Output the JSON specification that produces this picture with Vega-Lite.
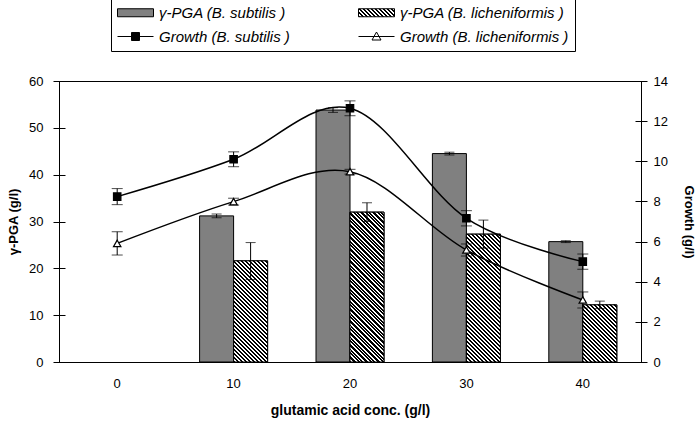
{
  "$schema": "https://vega.github.io/schema/vega-lite/v6.json",
  "autosize": {"type": "none"},
  "width": 582,
  "height": 281,
  "padding": {"left": 59, "top": 81, "right": 59, "bottom": 61},
  "config": {
    "font": "Liberation Sans",
    "view": {"stroke": "black", "strokeWidth": 1},
    "axis": {"labelFont": "Liberation Sans", "labelFontSize": 13, "labelColor": "black", "titleFont": "Liberation Sans", "titleFontSize": 13, "titleFontWeight": "bold", "titleColor": "black", "tickColor": "black", "grid": false}
  },
  "params": [
    {"name": "hatch", "value": [
      {"offset":0,"color":"#000"},
      {"offset":0.0104,"color":"#000"},{"offset":0.0104,"color":"#fff"},
      {"offset":0.0208,"color":"#fff"},{"offset":0.0208,"color":"#000"},
      {"offset":0.0313,"color":"#000"},{"offset":0.0313,"color":"#fff"},
      {"offset":0.0417,"color":"#fff"},{"offset":0.0417,"color":"#000"},
      {"offset":0.0521,"color":"#000"},{"offset":0.0521,"color":"#fff"},
      {"offset":0.0625,"color":"#fff"},{"offset":0.0625,"color":"#000"},
      {"offset":0.0729,"color":"#000"},{"offset":0.0729,"color":"#fff"},
      {"offset":0.0833,"color":"#fff"},{"offset":0.0833,"color":"#000"},
      {"offset":0.0938,"color":"#000"},{"offset":0.0938,"color":"#fff"},
      {"offset":0.1042,"color":"#fff"},{"offset":0.1042,"color":"#000"},
      {"offset":0.1146,"color":"#000"},{"offset":0.1146,"color":"#fff"},
      {"offset":0.125,"color":"#fff"},{"offset":0.125,"color":"#000"},
      {"offset":0.1354,"color":"#000"},{"offset":0.1354,"color":"#fff"},
      {"offset":0.1458,"color":"#fff"},{"offset":0.1458,"color":"#000"},
      {"offset":0.1563,"color":"#000"},{"offset":0.1563,"color":"#fff"},
      {"offset":0.1667,"color":"#fff"},{"offset":0.1667,"color":"#000"},
      {"offset":0.1771,"color":"#000"},{"offset":0.1771,"color":"#fff"},
      {"offset":0.1875,"color":"#fff"},{"offset":0.1875,"color":"#000"},
      {"offset":0.1979,"color":"#000"},{"offset":0.1979,"color":"#fff"},
      {"offset":0.2083,"color":"#fff"},{"offset":0.2083,"color":"#000"},
      {"offset":0.2188,"color":"#000"},{"offset":0.2188,"color":"#fff"},
      {"offset":0.2292,"color":"#fff"},{"offset":0.2292,"color":"#000"},
      {"offset":0.2396,"color":"#000"},{"offset":0.2396,"color":"#fff"},
      {"offset":0.25,"color":"#fff"},{"offset":0.25,"color":"#000"},
      {"offset":0.2604,"color":"#000"},{"offset":0.2604,"color":"#fff"},
      {"offset":0.2708,"color":"#fff"},{"offset":0.2708,"color":"#000"},
      {"offset":0.2813,"color":"#000"},{"offset":0.2813,"color":"#fff"},
      {"offset":0.2917,"color":"#fff"},{"offset":0.2917,"color":"#000"},
      {"offset":0.3021,"color":"#000"},{"offset":0.3021,"color":"#fff"},
      {"offset":0.3125,"color":"#fff"},{"offset":0.3125,"color":"#000"},
      {"offset":0.3229,"color":"#000"},{"offset":0.3229,"color":"#fff"},
      {"offset":0.3333,"color":"#fff"},{"offset":0.3333,"color":"#000"},
      {"offset":0.3438,"color":"#000"},{"offset":0.3438,"color":"#fff"},
      {"offset":0.3542,"color":"#fff"},{"offset":0.3542,"color":"#000"},
      {"offset":0.3646,"color":"#000"},{"offset":0.3646,"color":"#fff"},
      {"offset":0.375,"color":"#fff"},{"offset":0.375,"color":"#000"},
      {"offset":0.3854,"color":"#000"},{"offset":0.3854,"color":"#fff"},
      {"offset":0.3958,"color":"#fff"},{"offset":0.3958,"color":"#000"},
      {"offset":0.4063,"color":"#000"},{"offset":0.4063,"color":"#fff"},
      {"offset":0.4167,"color":"#fff"},{"offset":0.4167,"color":"#000"},
      {"offset":0.4271,"color":"#000"},{"offset":0.4271,"color":"#fff"},
      {"offset":0.4375,"color":"#fff"},{"offset":0.4375,"color":"#000"},
      {"offset":0.4479,"color":"#000"},{"offset":0.4479,"color":"#fff"},
      {"offset":0.4583,"color":"#fff"},{"offset":0.4583,"color":"#000"},
      {"offset":0.4688,"color":"#000"},{"offset":0.4688,"color":"#fff"},
      {"offset":0.4792,"color":"#fff"},{"offset":0.4792,"color":"#000"},
      {"offset":0.4896,"color":"#000"},{"offset":0.4896,"color":"#fff"},
      {"offset":0.5,"color":"#fff"},{"offset":0.5,"color":"#000"},
      {"offset":0.5104,"color":"#000"},{"offset":0.5104,"color":"#fff"},
      {"offset":0.5208,"color":"#fff"},{"offset":0.5208,"color":"#000"},
      {"offset":0.5313,"color":"#000"},{"offset":0.5313,"color":"#fff"},
      {"offset":0.5417,"color":"#fff"},{"offset":0.5417,"color":"#000"},
      {"offset":0.5521,"color":"#000"},{"offset":0.5521,"color":"#fff"},
      {"offset":0.5625,"color":"#fff"},{"offset":0.5625,"color":"#000"},
      {"offset":0.5729,"color":"#000"},{"offset":0.5729,"color":"#fff"},
      {"offset":0.5833,"color":"#fff"},{"offset":0.5833,"color":"#000"},
      {"offset":0.5938,"color":"#000"},{"offset":0.5938,"color":"#fff"},
      {"offset":0.6042,"color":"#fff"},{"offset":0.6042,"color":"#000"},
      {"offset":0.6146,"color":"#000"},{"offset":0.6146,"color":"#fff"},
      {"offset":0.625,"color":"#fff"},{"offset":0.625,"color":"#000"},
      {"offset":0.6354,"color":"#000"},{"offset":0.6354,"color":"#fff"},
      {"offset":0.6458,"color":"#fff"},{"offset":0.6458,"color":"#000"},
      {"offset":0.6563,"color":"#000"},{"offset":0.6563,"color":"#fff"},
      {"offset":0.6667,"color":"#fff"},{"offset":0.6667,"color":"#000"},
      {"offset":0.6771,"color":"#000"},{"offset":0.6771,"color":"#fff"},
      {"offset":0.6875,"color":"#fff"},{"offset":0.6875,"color":"#000"},
      {"offset":0.6979,"color":"#000"},{"offset":0.6979,"color":"#fff"},
      {"offset":0.7083,"color":"#fff"},{"offset":0.7083,"color":"#000"},
      {"offset":0.7188,"color":"#000"},{"offset":0.7188,"color":"#fff"},
      {"offset":0.7292,"color":"#fff"},{"offset":0.7292,"color":"#000"},
      {"offset":0.7396,"color":"#000"},{"offset":0.7396,"color":"#fff"},
      {"offset":0.75,"color":"#fff"},{"offset":0.75,"color":"#000"},
      {"offset":0.7604,"color":"#000"},{"offset":0.7604,"color":"#fff"},
      {"offset":0.7708,"color":"#fff"},{"offset":0.7708,"color":"#000"},
      {"offset":0.7813,"color":"#000"},{"offset":0.7813,"color":"#fff"},
      {"offset":0.7917,"color":"#fff"},{"offset":0.7917,"color":"#000"},
      {"offset":0.8021,"color":"#000"},{"offset":0.8021,"color":"#fff"},
      {"offset":0.8125,"color":"#fff"},{"offset":0.8125,"color":"#000"},
      {"offset":0.8229,"color":"#000"},{"offset":0.8229,"color":"#fff"},
      {"offset":0.8333,"color":"#fff"},{"offset":0.8333,"color":"#000"},
      {"offset":0.8438,"color":"#000"},{"offset":0.8438,"color":"#fff"},
      {"offset":0.8542,"color":"#fff"},{"offset":0.8542,"color":"#000"},
      {"offset":0.8646,"color":"#000"},{"offset":0.8646,"color":"#fff"},
      {"offset":0.875,"color":"#fff"},{"offset":0.875,"color":"#000"},
      {"offset":0.8854,"color":"#000"},{"offset":0.8854,"color":"#fff"},
      {"offset":0.8958,"color":"#fff"},{"offset":0.8958,"color":"#000"},
      {"offset":0.9063,"color":"#000"},{"offset":0.9063,"color":"#fff"},
      {"offset":0.9167,"color":"#fff"},{"offset":0.9167,"color":"#000"},
      {"offset":0.9271,"color":"#000"},{"offset":0.9271,"color":"#fff"},
      {"offset":0.9375,"color":"#fff"},{"offset":0.9375,"color":"#000"},
      {"offset":0.9479,"color":"#000"},{"offset":0.9479,"color":"#fff"},
      {"offset":0.9583,"color":"#fff"},{"offset":0.9583,"color":"#000"},
      {"offset":0.9688,"color":"#000"},{"offset":0.9688,"color":"#fff"},
      {"offset":0.9792,"color":"#fff"},{"offset":0.9792,"color":"#000"},
      {"offset":0.9896,"color":"#000"},{"offset":0.9896,"color":"#fff"},
      {"offset":1,"color":"#fff"}
    ]}
  ],
  "data": {"values": [
    {"conc":"0","strain":"sub","pga":null,"pgaLo":null,"pgaHi":null,"growth":8.24,"gLo":7.84,"gHi":8.64},
    {"conc":"0","strain":"lich","pga":null,"pgaLo":null,"pgaHi":null,"growth":5.91,"gLo":5.33,"gHi":6.49},
    {"conc":"10","strain":"sub","pga":31.2,"pgaLo":30.8,"pgaHi":31.6,"growth":10.1,"gLo":9.73,"gHi":10.47},
    {"conc":"10","strain":"lich","pga":21.6,"pgaLo":17.6,"pgaHi":25.5,"growth":7.99,"gLo":7.82,"gHi":8.16},
    {"conc":"20","strain":"sub","pga":53.8,"pgaLo":53.3,"pgaHi":54.3,"growth":12.64,"gLo":12.27,"gHi":13.01},
    {"conc":"20","strain":"lich","pga":32.0,"pgaLo":30.0,"pgaHi":34.0,"growth":9.48,"gLo":9.36,"gHi":9.6},
    {"conc":"30","strain":"sub","pga":44.5,"pgaLo":44.2,"pgaHi":44.8,"growth":7.16,"gLo":6.78,"gHi":7.54},
    {"conc":"30","strain":"lich","pga":27.3,"pgaLo":24.3,"pgaHi":30.3,"growth":5.58,"gLo":5.28,"gHi":5.88},
    {"conc":"40","strain":"sub","pga":25.7,"pgaLo":25.5,"pgaHi":25.9,"growth":5.0,"gLo":4.62,"gHi":5.38},
    {"conc":"40","strain":"lich","pga":12.2,"pgaLo":11.4,"pgaHi":13.0,"growth":3.09,"gLo":2.69,"gHi":3.49}
  ]},
  "encoding": {
    "x": {"field": "conc", "type": "ordinal", "sort": ["0","10","20","30","40"],
      "scale": {"paddingInner": 0, "paddingOuter": 0},
      "axis": {"title": "glutamic acid conc. (g/l)", "labelAngle": 0, "domain": false, "ticks": false, "labelPadding": 15, "titlePadding": 13, "titleFontSize": 14}}
  },
  "layer": [
    {
      "transform": [{"filter": "datum.pga != null"}],
      "encoding": {
        "xOffset": {"field": "strain", "type": "nominal", "scale": {"domain": ["sub","lich"], "paddingInner": 0, "paddingOuter": 0.7118}},
        "y": {"type": "quantitative", "scale": {"domain": [0, 60]}, "title": "γ-PGA (g/l)"}
      },
      "layer": [
        {
          "mark": {"type": "bar", "stroke": "black", "strokeWidth": 1},
          "encoding": {
            "y": {"field": "pga", "type": "quantitative", "title": "γ-PGA (g/l)",
              "axis": {"orient": "left", "values": [0,10,20,30,40,50,60], "domain": false, "offset": -6, "tickSize": 12, "labelPadding": 10, "titlePadding": 8}},
            "fill": {"field": "strain", "type": "nominal",
              "scale": {"domain": ["sub","lich","gsub","glich"], "range": ["#808080", {"expr": "{gradient: 'linear', x1: 0, y1: 1, x2: 5.08, y2: -0.13, stops: hatch}"}, "#000000", "#ffffff"]},
              "legend": {
                "orient": "none", "legendX": 52, "legendY": -85, "direction": "horizontal", "columns": 2, "title": null,
                "labelExpr": "datum.value === 'sub' ? 'γ-PGA (B. subtilis )' : datum.value === 'lich' ? 'γ-PGA (B. licheniformis )\u00a0\u00a0\u00a0\u00a0\u00a0\u00a0' : datum.value === 'gsub' ? 'Growth (B. subtilis )' : 'Growth (B. licheniformis )\u00a0\u00a0\u00a0\u00a0\u00a0\u00a0'",
                "labelFont": "Liberation Sans", "labelFontSize": 15, "labelFontStyle": "italic", "labelColor": "black", "labelLimit": 400,
                "symbolType": {"expr": "datum.value === 'sub' || datum.value === 'lich' ? 'M-1.8,-0.4H1.8V0.4H-1.8Z' : datum.value === 'gsub' ? 'M-1.8,0H1.8M-0.4,-0.4H0.4V0.4H-0.4Z' : 'M-1.8,0H1.8M0,-0.45L0.45,0.35H-0.45Z'"},
                "symbolSize": 400, "symbolOffset": 8, "symbolStrokeColor": "black", "symbolStrokeWidth": 1, "symbolOpacity": 1,
                "labelOffset": 13, "rowPadding": 5, "columnPadding": 66, "padding": 6,
                "strokeColor": "black", "fillColor": "white"
              }}
          }
        },
        {
          "transform": [{"filter": "datum.strain === 'lich'"}],
          "mark": {"type": "bar", "stroke": "black", "strokeWidth": 1,
            "fill": {"expr": "{gradient: 'linear', x1: 0, y1: 1, x2: 192*34/(1156+pow(datum.pga*281/60,2)), y2: 1-192*(datum.pga*281/60)/(1156+pow(datum.pga*281/60,2)), stops: hatch}"}},
          "encoding": {"y": {"field": "pga", "type": "quantitative", "title": "γ-PGA (g/l)"}}
        },
        {
          "mark": {"type": "rule", "color": "black", "strokeWidth": 1},
          "encoding": {"y": {"field": "pgaLo", "type": "quantitative", "title": "γ-PGA (g/l)"}, "y2": {"field": "pgaHi"}}
        },
        {
          "mark": {"type": "tick", "color": "black", "size": 10, "thickness": 1},
          "encoding": {"y": {"field": "pgaLo", "type": "quantitative", "title": "γ-PGA (g/l)"}}
        },
        {
          "mark": {"type": "tick", "color": "black", "size": 10, "thickness": 1},
          "encoding": {"y": {"field": "pgaHi", "type": "quantitative", "title": "γ-PGA (g/l)"}}
        }
      ]
    },
    {
      "encoding": {
        "y": {"type": "quantitative", "scale": {"domain": [0, 14]}, "title": "Growth (g/l)"}
      },
      "layer": [
        {
          "mark": {"type": "line", "color": "black", "strokeWidth": 1.5, "interpolate": "cardinal"},
          "encoding": {
            "y": {"field": "growth", "type": "quantitative", "title": "Growth (g/l)",
              "axis": {"orient": "right", "values": [0,2,4,6,8,10,12,14], "domain": false, "offset": -6, "tickSize": 12, "labelPadding": 6, "titlePadding": 14}},
            "detail": {"field": "strain"}
          }
        },
        {
          "mark": {"type": "rule", "color": "black", "strokeWidth": 1},
          "encoding": {"y": {"field": "gLo", "type": "quantitative", "title": "Growth (g/l)"}, "y2": {"field": "gHi"}}
        },
        {
          "mark": {"type": "tick", "color": "black", "size": 11, "thickness": 1},
          "encoding": {"y": {"field": "gLo", "type": "quantitative", "title": "Growth (g/l)"}}
        },
        {
          "mark": {"type": "tick", "color": "black", "size": 11, "thickness": 1},
          "encoding": {"y": {"field": "gHi", "type": "quantitative", "title": "Growth (g/l)"}}
        },
        {
          "mark": {"type": "point", "filled": true, "size": 55, "stroke": "black", "strokeWidth": 1.2, "opacity": 1},
          "encoding": {
            "y": {"field": "growth", "type": "quantitative", "title": "Growth (g/l)"},
            "shape": {"condition": {"test": "datum.strain === 'sub'", "value": "square"}, "value": "triangle-up"},
            "fill": {"condition": {"test": "datum.strain === 'sub'", "value": "black"}, "value": "white"}
          }
        }
      ]
    }
  ],
  "resolve": {"scale": {"y": "independent"}}
}
